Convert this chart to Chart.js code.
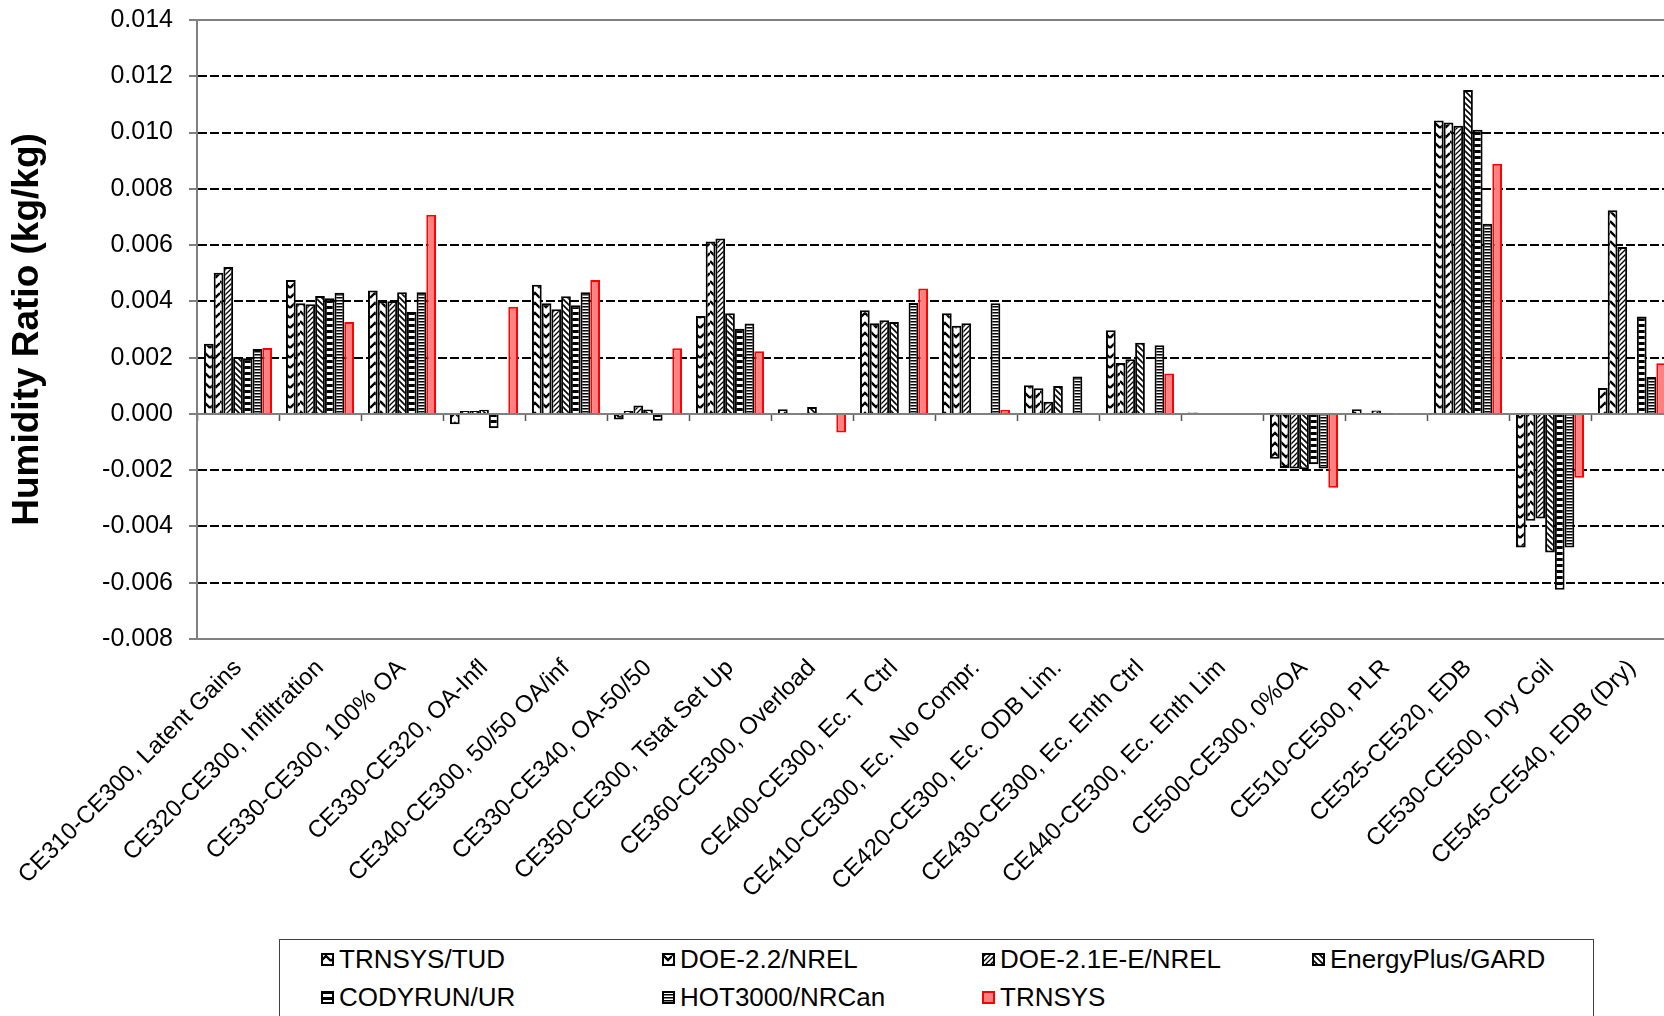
<!DOCTYPE html>
<html><head><meta charset="utf-8">
<script src="https://cdn.jsdelivr.net/npm/chart.js@4/dist/chart.umd.min.js"></script>
<style>
html,body{margin:0;padding:0;background:#fff;overflow:hidden;width:1664px;height:1016px;}
#wrap{position:absolute;left:0;top:0;width:1680px;height:1016px;}
#legend{position:absolute;left:279px;top:939px;width:1315px;height:120px;border:1px solid #404040;box-sizing:border-box;background:#fff;font-family:"Liberation Sans",Arial,sans-serif;font-size:26px;color:#000;}
.item{position:absolute;display:flex;align-items:center;white-space:nowrap;height:30px;line-height:30px;}
.item canvas{margin-right:5px;display:block;}
</style></head><body>
<div id="wrap"><canvas id="c" width="1680" height="1016"></canvas></div>
<div id="legend"></div>
<script>
// ---------------- data ----------------
const categories = [
  "CE310-CE300, Latent Gains",
  "CE320-CE300, Infiltration",
  "CE330-CE300, 100% OA",
  "CE330-CE320, OA-Infl",
  "CE340-CE300, 50/50 OA/inf",
  "CE330-CE340, OA-50/50",
  "CE350-CE300, Tstat Set Up",
  "CE360-CE300, Overload",
  "CE400-CE300, Ec. T Ctrl",
  "CE410-CE300, Ec. No Compr.",
  "CE420-CE300, Ec. ODB Lim.",
  "CE430-CE300, Ec. Enth Ctrl",
  "CE440-CE300, Ec. Enth Lim",
  "CE500-CE300, 0%OA",
  "CE510-CE500, PLR",
  "CE525-CE520, EDB",
  "CE530-CE500, Dry Coil",
  "CE545-CE540, EDB (Dry)"
];
const seriesNames = ["TRNSYS/TUD","DOE-2.2/NREL","DOE-2.1E-E/NREL","EnergyPlus/GARD","CODYRUN/UR","HOT3000/NRCan","TRNSYS"];

const trnsysTud  = [0.00249, 0.00476, 0.00439, -0.00037, 0.00459, -0.00020, 0.00348, 0.00017, 0.00368, 0.00358, 0.00102, 0.00297, 0.00005, -0.00159, 0.00017, 0.01043, -0.00475, 0.00092];
const doe22      = [0.00502, 0.00393, 0.00400, 0.00010, 0.00393, 0.00010, 0.00613, null, 0.00322, 0.00313, 0.00091, 0.00181, null, -0.00192, null, 0.01036, -0.00380, 0.00724];
const doe21e     = [0.00522, 0.00390, 0.00400, 0.00010, 0.00372, 0.00030, 0.00623, null, 0.00333, 0.00322, 0.00043, 0.00194, null, -0.00194, 0.00012, 0.01024, -0.00372, 0.00593];
const energyPlus = [0.00202, 0.00419, 0.00432, 0.00015, 0.00418, 0.00016, 0.00358, 0.00025, 0.00327, null, 0.00099, 0.00253, null, -0.00197, 0.00002, 0.01151, -0.00493, null];
const codyrun    = [0.00198, 0.00411, 0.00362, -0.00051, 0.00386, -0.00024, 0.00303, null, null, null, null, null, null, -0.00179, 0.00002, 0.01010, -0.00625, 0.00346];
const hot3000    = [0.00231, 0.00431, 0.00432, null, 0.00432, null, 0.00321, null, 0.00394, 0.00393, 0.00133, 0.00244, null, -0.00194, null, 0.00676, -0.00475, 0.00131];
const trnsys     = [0.00234, 0.00327, 0.00708, 0.00381, 0.00476, 0.00233, 0.00223, -0.00066, 0.00446, 0.00014, 0.00003, 0.00144, 0.00003, -0.00262, 0.00003, 0.00889, -0.00227, 0.00180];

const yMin = -0.008, yMax = 0.014, yStep = 0.002;
const yTitle = "Humidity Ratio (kg/kg)";

// ---------------- styles ----------------
const FONT = "'Liberation Sans', Arial, sans-serif";

function makePattern(kind){
  const c = document.createElement('canvas');
  let w = 10, h = 10;
  if (kind === 'diagUp') { w = 5; h = 5; }
  if (kind === 'diagDown') { w = 6; h = 6; }
  if (kind === 'hThick') { w = 4; h = 6; }
  if (kind === 'hThin') { w = 4; h = 3; }
  c.width = w; c.height = h;
  const g = c.getContext('2d');
  g.fillStyle = '#fff'; g.fillRect(0,0,w,h);
  g.strokeStyle = '#000'; g.fillStyle = '#000';
  if (kind === 'chevUp') {
    g.lineWidth = 2.4; g.beginPath();
    g.moveTo(0,8); g.lineTo(5,3); g.lineTo(10,8);
    g.moveTo(0,-2); g.lineTo(5,-7); g.lineTo(10,-2);
    g.moveTo(0,18); g.lineTo(5,13); g.lineTo(10,18);
    g.stroke();
  } else if (kind === 'chevDown') {
    g.lineWidth = 2.4; g.beginPath();
    g.moveTo(0,1); g.lineTo(6,7); g.lineTo(10,3);
    g.moveTo(0,11); g.lineTo(6,17); g.lineTo(10,13);
    g.moveTo(0,-9); g.lineTo(6,-3); g.lineTo(10,-7);
    g.stroke();
  } else if (kind === 'diagUp') {
    g.lineWidth = 1.3; g.beginPath();
    g.moveTo(-1,w+1); g.lineTo(w+1,-1);
    g.moveTo(-1,1); g.lineTo(1,-1);
    g.moveTo(w-1,h+1); g.lineTo(w+1,h-1);
    g.stroke();
  } else if (kind === 'diagDown') {
    g.lineWidth = 1.6; g.beginPath();
    g.moveTo(-1,-1); g.lineTo(w+1,h+1);
    g.moveTo(w-1,-1); g.lineTo(w+1,1);
    g.moveTo(-1,h-1); g.lineTo(1,h+1);
    g.stroke();
  } else if (kind === 'hThick') {
    g.fillRect(0,0,w,3);
  } else if (kind === 'hThin') {
    g.fillRect(0,0,w,1.5);
  }
  return document.getElementById('c').getContext('2d').createPattern(c,'repeat');
}

const fills = [
  makePattern('chevUp'),
  makePattern('chevDown'),
  makePattern('diagUp'),
  makePattern('diagDown'),
  makePattern('hThick'),
  makePattern('hThin'),
  '#FF8080'
];
const borders = ['#000','#000','#000','#000','#000','#000','#FF0000'];
const seriesData = [trnsysTud, doe22, doe21e, energyPlus, codyrun, hot3000, trnsys];

const datasets = seriesNames.map((n,i)=>({
  label: n,
  data: seriesData[i],
  backgroundColor: fills[i],
  borderColor: borders[i],
  borderWidth: 2,
  categoryPercentage: 0.83,
  barPercentage: 1.0
}));

const isEdge = v => Math.abs(v - yMax) < 1e-9 || Math.abs(v - yMin) < 1e-9 || Math.abs(v) < 1e-9;

const chart = new Chart(document.getElementById('c'), {
  type: 'bar',
  data: { labels: categories, datasets },
  options: {
    responsive: false,
    animation: false,
    layout: { padding: { top: 20, right: 7, left: 0, bottom: 0 } },
    plugins: { legend: { display: false }, tooltip: { enabled: false } },
    scales: {
      x: {
        axis: 'x', type: 'category', position: 'bottom', offset: true,
        grid: { offset: true, drawOnChartArea: false, drawTicks: false },
        border: { display: true, color: '#808080', width: 2 },
        ticks: { autoSkip: false, minRotation: 45, maxRotation: 45, padding: 15, color: '#000', font: { family: FONT, size: 24 } },
        afterFit(s){ s.height = 377; }
      },
      xTop: {
        axis: 'x', type: 'category', position: 'top', offset: true,
        grid: { drawOnChartArea: false, drawTicks: false },
        ticks: { display: false },
        border: { display: true, color: '#808080', width: 2 },
        afterFit(s){ s.height = 0; }
      },
      xZero: {
        axis: 'x', type: 'category', position: { y: 0 }, offset: true,
        grid: { offset: true, drawOnChartArea: false, drawTicks: true, tickLength: 6, tickColor: '#555', tickWidth: 1.5 },
        ticks: { display: false },
        border: { display: true, color: '#808080', width: 2 }
      },
      y: {
        type: 'linear', position: 'left', min: yMin, max: yMax,
        ticks: { stepSize: yStep, callback: v => v.toFixed(3), padding: 16, color: '#000', font: { family: FONT, size: 25 } },
        grid: {
          color: c => (c.tick && isEdge(c.tick.value)) ? 'rgba(0,0,0,0)' : '#000',
          lineWidth: 2, tickLength: 8, tickColor: '#555', tickWidth: 1.5, tickBorderDash: []
        },
        border: { display: true, color: '#808080', width: 2, dash: [9, 3] },
        title: { display: true, text: yTitle, color: '#000', font: { family: FONT, size: 37, weight: 'bold' }, padding: { top: 6, bottom: 0 } },
        afterFit(s){ s.width = 197; s.paddingTop = 0; s.paddingBottom = 0; }
      }
    }
  }
});

// ---------------- HTML legend built from the datasets ----------------
const legendCols = [321, 662, 982, 1312];
const legendRows = [959, 997];
const legendEl = document.getElementById('legend');
chart.data.datasets.forEach((ds, i) => {
  const col = i % 4, row = Math.floor(i / 4);
  const item = document.createElement('div');
  item.className = 'item';
  item.style.left = (legendCols[col] - 279 - 1) + 'px';
  item.style.top = (legendRows[row] - 939 - 1 - 15) + 'px';
  const sw = document.createElement('canvas');
  sw.width = 13; sw.height = 13;
  const g = sw.getContext('2d');
  g.fillStyle = ds.backgroundColor; g.fillRect(0,0,13,13);
  g.strokeStyle = ds.borderColor; g.lineWidth = 2; g.strokeRect(1,1,11,11);
  item.appendChild(sw);
  const t = document.createElement('span');
  t.textContent = ds.label;
  item.appendChild(t);
  legendEl.appendChild(item);
});
</script>
</body></html>
